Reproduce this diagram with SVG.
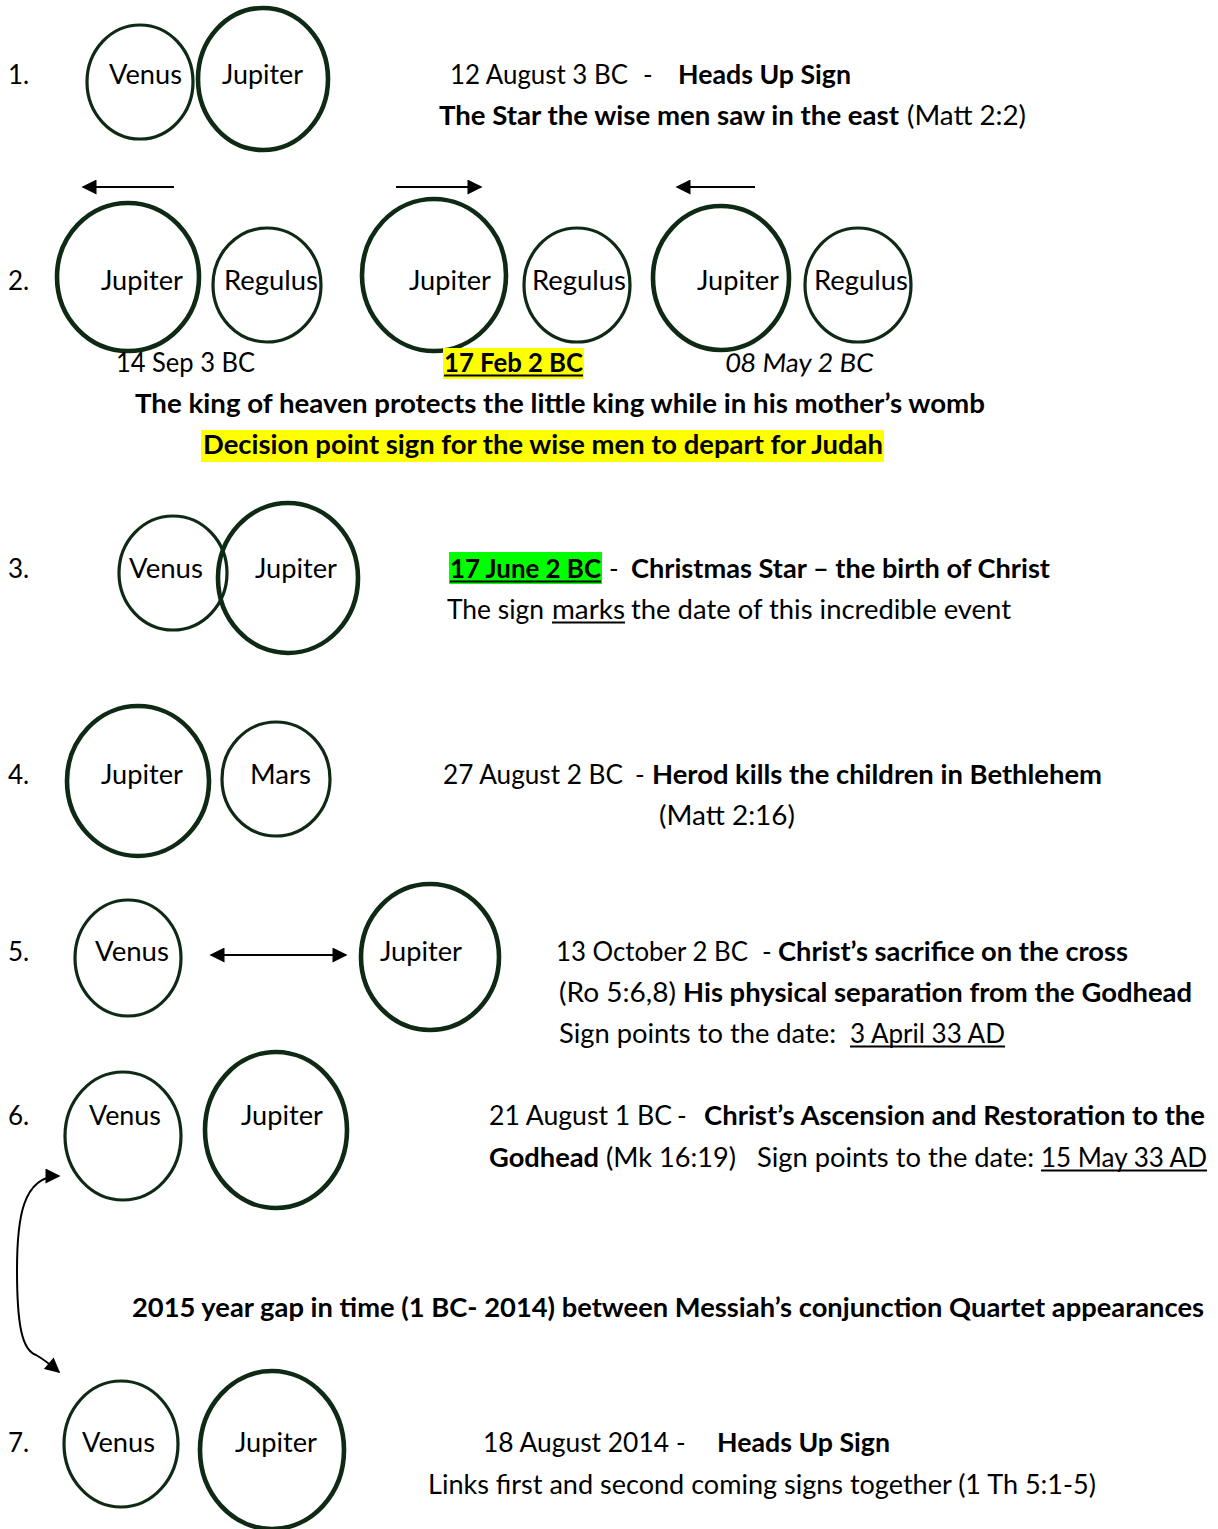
<svg xmlns="http://www.w3.org/2000/svg" width="1218" height="1529" viewBox="0 0 1218 1529">
<style>
text{font-family:Lato,"Open Sans","Liberation Sans",sans-serif;font-size:26px;fill:#000}
.b{font-weight:bold}
.thin{fill:none;stroke:#0f2a14;stroke-width:3.2}
.thick{fill:none;stroke:#0f2a14;stroke-width:4.6}
.ul{stroke:#000;stroke-width:1.8}
.arr{fill:none;stroke:#000;stroke-width:2}
</style>
<defs>
<marker id="ah" viewBox="0 0 10 10" refX="9" refY="5" markerUnits="userSpaceOnUse" markerWidth="17" markerHeight="15" orient="auto-start-reverse">
<path d="M0,0 L10,5 L0,10 Z" fill="#000"/>
</marker>
</defs>
<rect width="1218" height="1529" fill="#fff"/>

<!-- Row 1 -->
<g id="row1">
<text x="8" y="84">1.</text>
<g id="n1-venus"><ellipse class="thin" cx="140" cy="82" rx="53" ry="57"/><text x="109" y="84" textLength="73" lengthAdjust="spacingAndGlyphs">Venus</text></g>
<g id="n1-jupiter"><ellipse class="thick" cx="263" cy="79" rx="65" ry="71"/><text x="222" y="84" textLength="81" lengthAdjust="spacingAndGlyphs">Jupiter</text></g>
<text x="450" y="84" textLength="178" lengthAdjust="spacingAndGlyphs">12 August 3 BC</text>
<text x="643" y="84">-</text>
<text class="b" x="678" y="84" textLength="173" lengthAdjust="spacingAndGlyphs">Heads Up Sign</text>
<text class="b" x="439" y="125" textLength="460" lengthAdjust="spacingAndGlyphs">The Star the wise men saw in the east</text>
<text x="907" y="125" textLength="119" lengthAdjust="spacingAndGlyphs">(Matt 2:2)</text>
</g>

<!-- Row 2 -->
<g id="row2">
<text x="8" y="290">2.</text>
<g id="n2-jupiter-a"><ellipse class="thick" cx="128" cy="277" rx="71" ry="74"/><text x="101" y="290" textLength="82" lengthAdjust="spacingAndGlyphs">Jupiter</text></g>
<g id="n2-regulus-a"><ellipse class="thin" cx="267" cy="285" rx="54" ry="57"/><text x="224" y="290" textLength="94" lengthAdjust="spacingAndGlyphs">Regulus</text></g>
<g id="n2-jupiter-b"><ellipse class="thick" cx="434" cy="275" rx="72" ry="76"/><text x="409" y="290" textLength="82" lengthAdjust="spacingAndGlyphs">Jupiter</text></g>
<g id="n2-regulus-b"><ellipse class="thin" cx="577" cy="285" rx="53" ry="57"/><text x="532" y="290" textLength="94" lengthAdjust="spacingAndGlyphs">Regulus</text></g>
<g id="n2-jupiter-c"><ellipse class="thick" cx="721" cy="278" rx="68" ry="72"/><text x="697" y="290" textLength="82" lengthAdjust="spacingAndGlyphs">Jupiter</text></g>
<g id="n2-regulus-c"><ellipse class="thin" cx="858" cy="285" rx="53" ry="57"/><text x="814" y="290" textLength="94" lengthAdjust="spacingAndGlyphs">Regulus</text></g>
<text x="116" y="372" textLength="139" lengthAdjust="spacingAndGlyphs">14 Sep 3 BC</text>
<rect x="443" y="348" width="141" height="31" fill="#ffff00"/>
<text class="b" x="444" y="372" textLength="139" lengthAdjust="spacingAndGlyphs">17 Feb 2 BC</text>
<line class="ul" x1="444" y1="375.5" x2="583" y2="375.5"/>
<text x="725" y="372" textLength="148" lengthAdjust="spacingAndGlyphs" transform="skewX(-5) translate(32.5,0)">08 May 2 BC</text>
<text class="b" x="135" y="413" textLength="850" lengthAdjust="spacingAndGlyphs">The king of heaven protects the little king while in his mother’s womb</text>
<rect x="201" y="430" width="683" height="32" fill="#ffff00"/>
<text class="b" x="203" y="454" textLength="680" lengthAdjust="spacingAndGlyphs">Decision point sign for the wise men to depart for Judah</text>
</g>

<!-- Row 3 -->
<g id="row3">
<text x="8" y="578">3.</text>
<g id="n3-venus"><ellipse class="thin" cx="173" cy="573" rx="54" ry="57"/><text x="129" y="578" textLength="74" lengthAdjust="spacingAndGlyphs">Venus</text></g>
<g id="n3-jupiter"><ellipse class="thick" cx="288" cy="578" rx="70" ry="75"/><text x="255" y="578" textLength="82" lengthAdjust="spacingAndGlyphs">Jupiter</text></g>
<rect x="449" y="552" width="153" height="32" fill="#00ff00"/>
<text class="b" x="450" y="578" textLength="151" lengthAdjust="spacingAndGlyphs">17 June 2 BC</text>
<line class="ul" x1="450" y1="581.5" x2="601" y2="581.5"/>
<text x="609" y="578">-</text>
<text class="b" x="631" y="578" textLength="419" lengthAdjust="spacingAndGlyphs">Christmas Star – the birth of Christ</text>
<text x="447" y="619" textLength="97" lengthAdjust="spacingAndGlyphs">The sign</text>
<text x="552" y="619" textLength="73" lengthAdjust="spacingAndGlyphs">marks</text>
<line class="ul" x1="552" y1="622.5" x2="625" y2="622.5"/>
<text x="631" y="619" textLength="380" lengthAdjust="spacingAndGlyphs">the date of this incredible event</text>
</g>

<!-- Row 4 -->
<g id="row4">
<text x="8" y="784">4.</text>
<g id="n4-jupiter"><ellipse class="thick" cx="138" cy="781" rx="71" ry="75"/><text x="101" y="784" textLength="82" lengthAdjust="spacingAndGlyphs">Jupiter</text></g>
<g id="n4-mars"><ellipse class="thin" cx="276" cy="779" rx="54" ry="57"/><text x="250" y="784" textLength="61" lengthAdjust="spacingAndGlyphs">Mars</text></g>
<text x="443" y="784" textLength="180" lengthAdjust="spacingAndGlyphs">27 August 2 BC</text>
<text x="635" y="784">-</text>
<text class="b" x="652" y="784" textLength="450" lengthAdjust="spacingAndGlyphs">Herod kills the children in Bethlehem</text>
<text x="659" y="825" textLength="136" lengthAdjust="spacingAndGlyphs">(Matt 2:16)</text>
</g>

<!-- Row 5 -->
<g id="row5">
<text x="8" y="961">5.</text>
<g id="n5-venus"><ellipse class="thin" cx="128" cy="958" rx="53" ry="58"/><text x="95" y="961" textLength="74" lengthAdjust="spacingAndGlyphs">Venus</text></g>
<g id="n5-jupiter"><ellipse class="thick" cx="430" cy="957" rx="69" ry="73"/><text x="380" y="961" textLength="82" lengthAdjust="spacingAndGlyphs">Jupiter</text></g>
<text x="556" y="961" textLength="192" lengthAdjust="spacingAndGlyphs">13 October 2 BC</text>
<text x="762" y="961">-</text>
<text class="b" x="778" y="961" textLength="350" lengthAdjust="spacingAndGlyphs">Christ’s sacrifice on the cross</text>
<text x="559" y="1002" textLength="117" lengthAdjust="spacingAndGlyphs">(Ro 5:6,8)</text>
<text class="b" x="683" y="1002" textLength="509" lengthAdjust="spacingAndGlyphs">His physical separation from the Godhead</text>
<text x="559" y="1043" textLength="277" lengthAdjust="spacingAndGlyphs">Sign points to the date:</text>
<text x="850" y="1043" textLength="155" lengthAdjust="spacingAndGlyphs">3 April 33 AD</text>
<line class="ul" x1="850" y1="1046.5" x2="1005" y2="1046.5"/>
</g>

<!-- Row 6 -->
<g id="row6">
<text x="8" y="1125">6.</text>
<g id="n6-venus"><ellipse class="thin" cx="123" cy="1136" rx="58" ry="64"/><text x="89" y="1125" textLength="72" lengthAdjust="spacingAndGlyphs">Venus</text></g>
<g id="n6-jupiter"><ellipse class="thick" cx="276" cy="1130" rx="71" ry="78"/><text x="241" y="1125" textLength="82" lengthAdjust="spacingAndGlyphs">Jupiter</text></g>
<text x="489" y="1125" textLength="183" lengthAdjust="spacingAndGlyphs">21 August 1 BC</text>
<text x="677" y="1125">-</text>
<text class="b" x="704" y="1125" textLength="501" lengthAdjust="spacingAndGlyphs">Christ’s Ascension and Restoration to the</text>
<text class="b" x="489" y="1167" textLength="110" lengthAdjust="spacingAndGlyphs">Godhead</text>
<text x="606" y="1167" textLength="130" lengthAdjust="spacingAndGlyphs">(Mk 16:19)</text>
<text x="757" y="1167" textLength="277" lengthAdjust="spacingAndGlyphs">Sign points to the date:</text>
<text x="1041" y="1167" textLength="166" lengthAdjust="spacingAndGlyphs">15 May 33 AD</text>
<line class="ul" x1="1041" y1="1170.5" x2="1207" y2="1170.5"/>
</g>

<text class="b" x="132" y="1317" textLength="1072" lengthAdjust="spacingAndGlyphs">2015 year gap in time (1 BC- 2014) between Messiah’s conjunction Quartet appearances</text>

<!-- Row 7 -->
<g id="row7">
<text x="8" y="1452">7.</text>
<g id="n7-venus"><ellipse class="thin" cx="121" cy="1444" rx="57" ry="63"/><text x="82" y="1452" textLength="73" lengthAdjust="spacingAndGlyphs">Venus</text></g>
<g id="n7-jupiter"><ellipse class="thick" cx="272" cy="1450" rx="72" ry="79"/><text x="235" y="1452" textLength="82" lengthAdjust="spacingAndGlyphs">Jupiter</text></g>
<text x="483" y="1452" textLength="186" lengthAdjust="spacingAndGlyphs">18 August 2014</text>
<text x="676" y="1452">-</text>
<text class="b" x="717" y="1452" textLength="173" lengthAdjust="spacingAndGlyphs">Heads Up Sign</text>
<text x="428" y="1494" textLength="668" lengthAdjust="spacingAndGlyphs">Links first and second coming signs together (1 Th 5:1-5)</text>
</g>

<!-- Connectors -->
<g id="connectors">
<line class="arr" x1="174" y1="187" x2="83" y2="187" marker-end="url(#ah)"/>
<line class="arr" x1="396" y1="187" x2="481" y2="187" marker-end="url(#ah)"/>
<line class="arr" x1="755" y1="187" x2="677" y2="187" marker-end="url(#ah)"/>
<line class="arr" x1="211" y1="955" x2="346" y2="955" marker-start="url(#ah)" marker-end="url(#ah)"/>
<path class="arr" d="M59,1176 C22,1176 17,1220 17,1270 C17,1325 22,1350 36,1355 C45,1360 52,1366 59,1372" marker-start="url(#ah)" marker-end="url(#ah)"/>
</g>
</svg>
